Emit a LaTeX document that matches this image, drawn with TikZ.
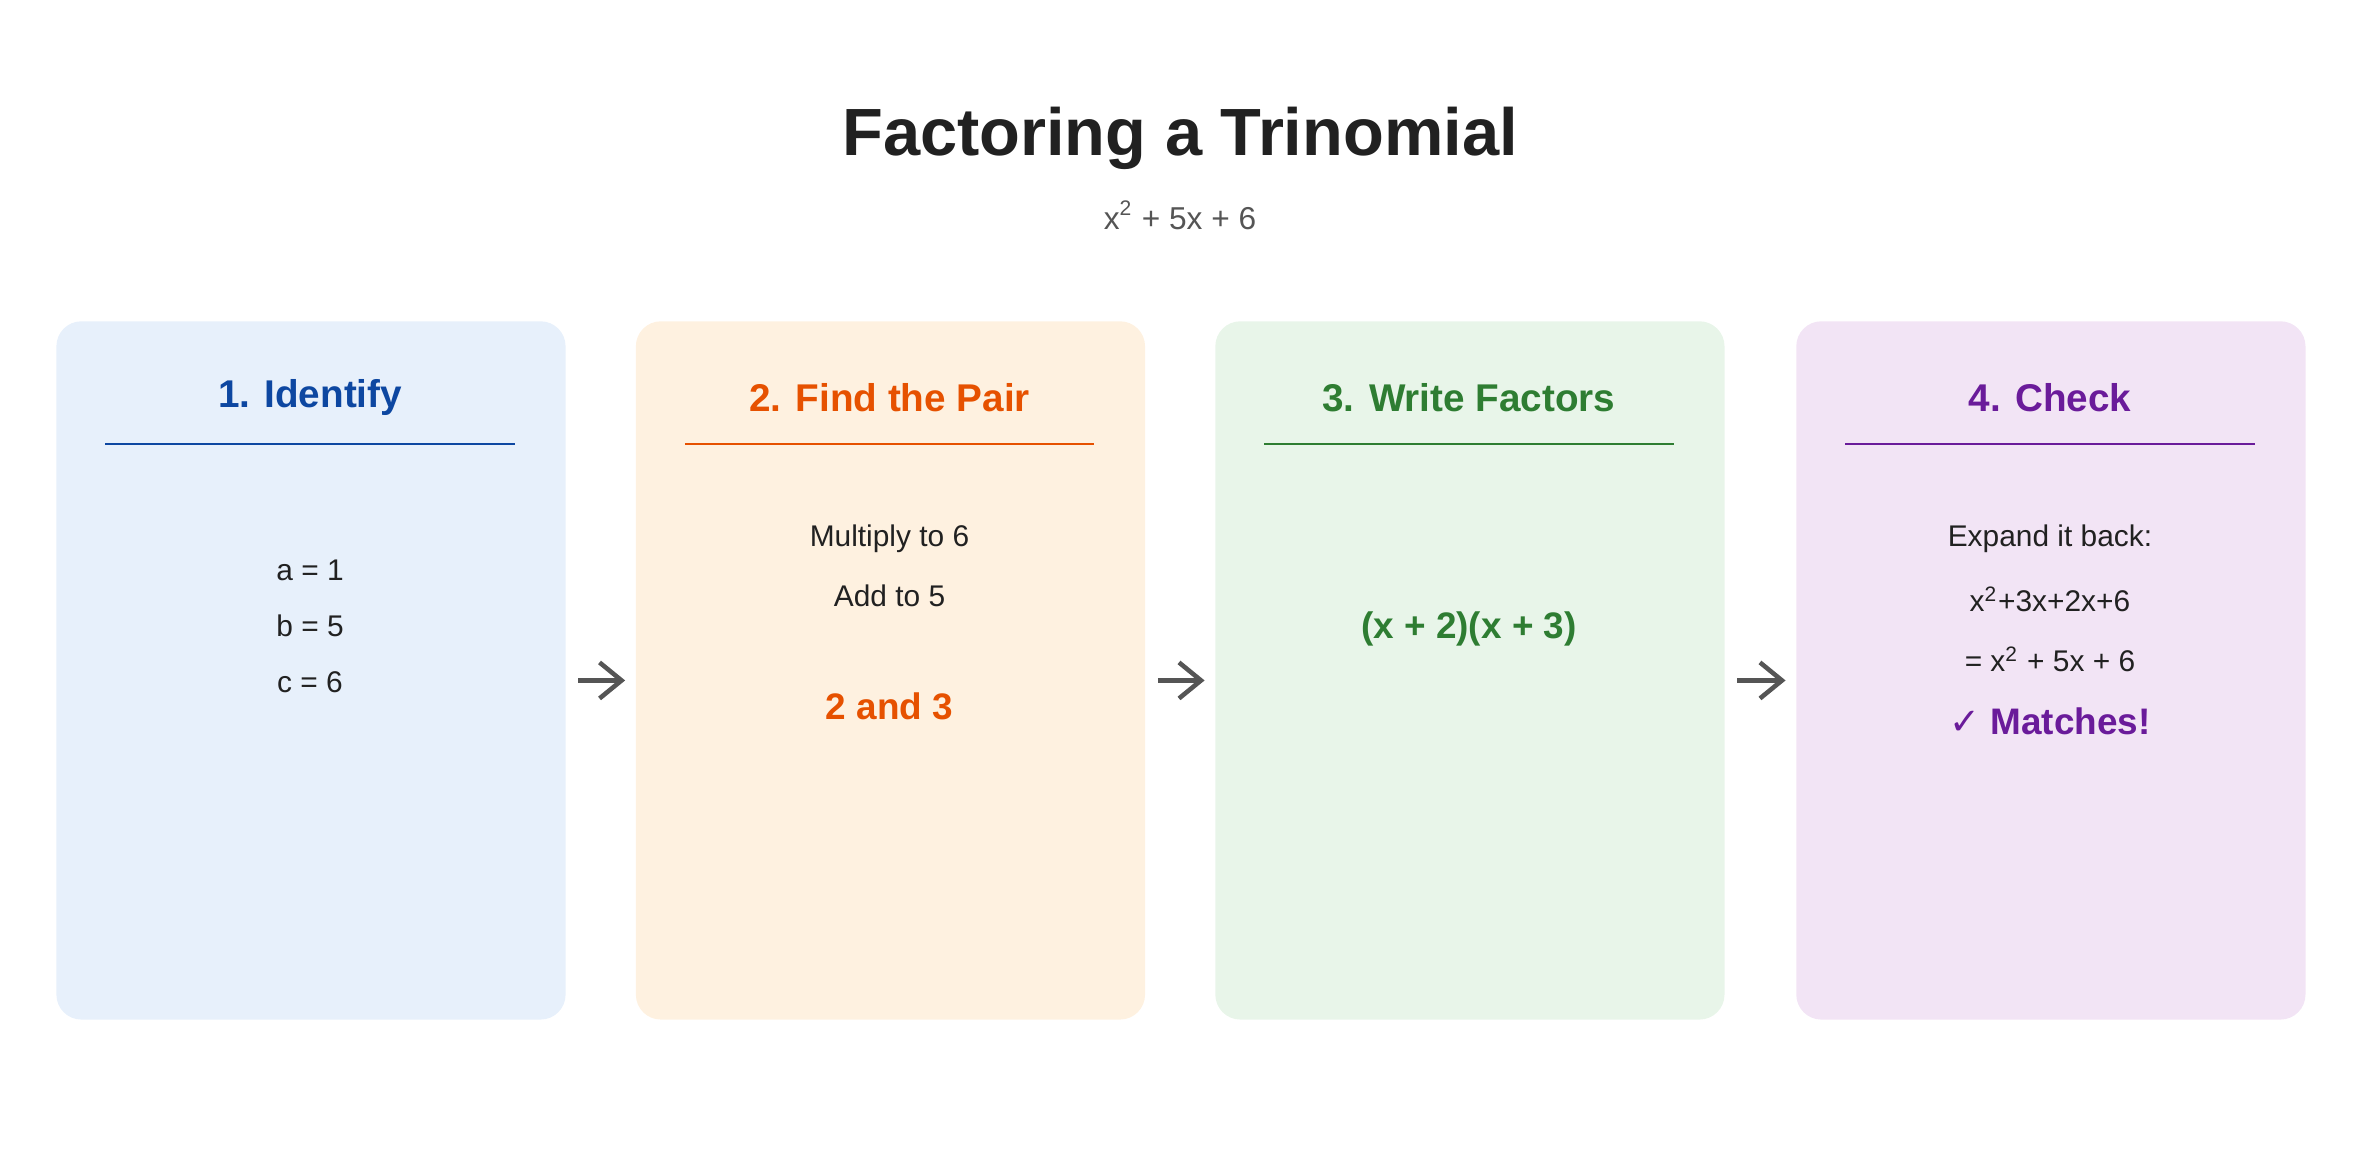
\documentclass[tikz,border=0pt]{standalone}
\usepackage{fontspec}
\setmainfont{Liberation Sans}
\newfontfamily\djv{DejaVu Sans}
\usetikzlibrary{arrows.meta}
\definecolor{cA}{HTML}{0D47A1}\definecolor{bA}{HTML}{E7F0FB}
\definecolor{cB}{HTML}{E65100}\definecolor{bB}{HTML}{FEF1E0}
\definecolor{cC}{HTML}{2E7D32}\definecolor{bC}{HTML}{E8F5E9}
\definecolor{cD}{HTML}{6A1B9A}\definecolor{bD}{HTML}{F2E4F5}
\definecolor{ink}{HTML}{212121}\definecolor{gr}{HTML}{555555}
\begin{document}
\begin{tikzpicture}[x=0.01505cm,y=-0.01505cm,
 panel/.style={rounded corners=0.25cm,minimum width=5.09cm,minimum height=6.98cm,inner sep=0,anchor=north west},
 head/.style={font=\fontsize{11}{13}\selectfont\bfseries},
 body/.style={font=\fontsize{8.5}{10}\selectfont,text=ink},
 big/.style={font=\fontsize{10.5}{12}\selectfont\bfseries},
 arr/.style={-{Straight Barb[length=2.2mm,width=3.6mm,line width=1.3pt]},line width=1.3pt,gr}]
\useasboundingbox (0,0) rectangle (1568,771);
\node[font=\fontsize{19}{22}\selectfont\bfseries,text=ink] (t) at (784,92) {Factoring a Trinomial};
\node[font=\fontsize{9}{11}\selectfont,text=gr] (st) at (784,143) {x\textsuperscript{2} + 5x + 6};
\foreach \n/\x/\c/\b/\h in {A/37/cA/bA/1. Identify,B/422/cB/bB/2. Find the Pair,C/807/cC/bC/3. Write Factors,D/1193/cD/bD/4. Check}{
 \node[panel,fill=\b] (p\n) at (\x,213) {};
 \node[head,text=\c] (h\n) at (\x+169,264) {\h};
 \coordinate (l\n) at (\x+33,295); \coordinate (r\n) at (\x+305,295);
 \draw[\c,line width=0.5pt] (l\n) -- (r\n);
}
\node[body] (a1) at (206,379) {a = 1};
\node[body] (a2) at (206,416) {b = 5};
\node[body] (a3) at (206,453) {c = 6};
\node[body] (b1) at (591,358) {Multiply to 6};
\node[body] (b2) at (591,396) {Add to 5};
\node[big,text=cB] (b3) at (591,469) {2 and 3};
\node[big,text=cC] (c1) at (976,418) {(x + 2)(x + 3)};
\node[body] (d1) at (1362,358) {Expand it back:};
\node[body] (d2) at (1362,398) {x\textsuperscript{2}+3x+2x+6};
\node[body] (d3) at (1362,438) {= x\textsuperscript{2} + 5x + 6};
\node[big,text=cD] (d4) at (1362,479) {{\djv\mdseries ✓} Matches!};
\foreach \u/\v in {A/B,B/C,C/D}{
 \draw[arr] ([xshift=0.12cm,yshift=-0.1cm]p\u.east) -- ([xshift=-0.1cm,yshift=-0.1cm]p\v.west);
}
\end{tikzpicture}
\end{document}
